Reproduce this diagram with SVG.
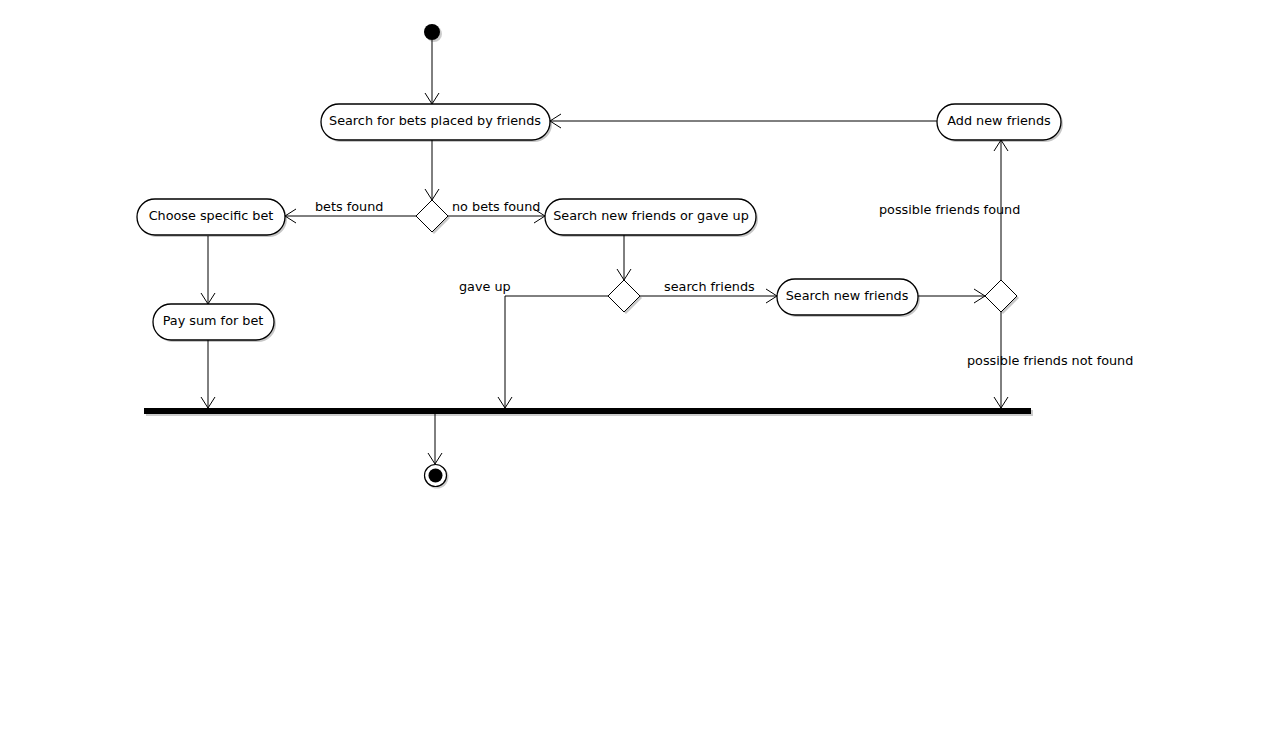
<svg xmlns="http://www.w3.org/2000/svg" width="1271" height="736" viewBox="0 0 1271 736">
<style>
.node rect.shape{fill:#fff;stroke:#000;stroke-width:1.3}
.shadow{fill:#000;opacity:0.22}
.dia{fill:#fff;stroke:#000;stroke-width:1}
.t{font-family:"DejaVu Sans","Liberation Sans",sans-serif;font-size:12.8px;fill:#000}
.nt{text-anchor:middle}
.edge{fill:none;stroke:#000;stroke-width:1}
</style>
<defs>
<marker id="arr" markerUnits="userSpaceOnUse" markerWidth="14" markerHeight="16" viewBox="0 0 14 16" refX="12" refY="8" orient="auto">
<path d="M1,1 L12,8 L1,15" fill="none" stroke="#000" stroke-width="1"/>
</marker>
</defs>
<rect width="1271" height="736" fill="#fff"/>
<g id="connectors">
<path class="edge" d="M432,40 L432,104" marker-end="url(#arr)"/>
<path class="edge" d="M432,140 L432,200" marker-end="url(#arr)"/>
<path class="edge" d="M416,216 L285,216" marker-end="url(#arr)"/>
<path class="edge" d="M448,216 L545,216" marker-end="url(#arr)"/>
<path class="edge" d="M624,235 L624,280" marker-end="url(#arr)"/>
<path class="edge" d="M608,296 L505,296 L505,408" marker-end="url(#arr)"/>
<path class="edge" d="M640,296 L777,296" marker-end="url(#arr)"/>
<path class="edge" d="M918,296 L985,296" marker-end="url(#arr)"/>
<path class="edge" d="M1001,280 L1001,140" marker-end="url(#arr)"/>
<path class="edge" d="M937,121 L550,121" marker-end="url(#arr)"/>
<path class="edge" d="M1001,312 L1001,408" marker-end="url(#arr)"/>
<path class="edge" d="M208,236 L208,304" marker-end="url(#arr)"/>
<path class="edge" d="M208,340 L208,408" marker-end="url(#arr)"/>
<path class="edge" d="M435,414 L435,464" marker-end="url(#arr)"/>
<text class="t" x="315" y="211">bets found</text>
<text class="t" x="452" y="211">no bets found</text>
<text class="t" x="459" y="291">gave up</text>
<text class="t" x="664" y="291">search friends</text>
<text class="t" x="879" y="214">possible friends found</text>
<text class="t" x="967" y="365">possible friends not found</text>
</g>
<g id="start">
<circle cx="434" cy="34" r="8" fill="#000" opacity="0.2"/>
<circle cx="432" cy="32" r="8" fill="#000"/>
</g>
<g id="n_search_bets" class="node">
<rect class="shadow" x="323" y="106" width="229" height="36" rx="18"/>
<rect class="shape" x="321" y="104" width="229" height="36" rx="18"/>
<text class="t nt" x="435" y="125">Search for bets placed by friends</text>
</g>
<g id="d1">
<path class="shadow" d="M434,202 L450,218 L434,234 L418,218 Z"/>
<path class="dia" d="M432,200 L448,216 L432,232 L416,216 Z"/>
</g>
<g id="n_choose" class="node">
<rect class="shadow" x="139" y="201" width="148" height="36" rx="18"/>
<rect class="shape" x="137" y="199" width="148" height="36" rx="18"/>
<text class="t nt" x="211" y="220">Choose specific bet</text>
</g>
<g id="n_search_or_gave" class="node">
<rect class="shadow" x="547" y="201" width="211" height="36" rx="18"/>
<rect class="shape" x="545" y="199" width="211" height="36" rx="18"/>
<text class="t nt" x="651" y="220">Search new friends or gave up</text>
</g>
<g id="d2">
<path class="shadow" d="M626,282 L642,298 L626,314 L610,298 Z"/>
<path class="dia" d="M624,280 L640,296 L624,312 L608,296 Z"/>
</g>
<g id="n_search_new" class="node">
<rect class="shadow" x="779" y="281" width="141" height="36" rx="18"/>
<rect class="shape" x="777" y="279" width="141" height="36" rx="18"/>
<text class="t nt" x="847" y="300">Search new friends</text>
</g>
<g id="d3">
<path class="shadow" d="M1003,282 L1019,298 L1003,314 L987,298 Z"/>
<path class="dia" d="M1001,280 L1017,296 L1001,312 L985,296 Z"/>
</g>
<g id="n_add" class="node">
<rect class="shadow" x="939" y="106" width="124" height="36" rx="18"/>
<rect class="shape" x="937" y="104" width="124" height="36" rx="18"/>
<text class="t nt" x="999" y="125">Add new friends</text>
</g>
<g id="n_pay" class="node">
<rect class="shadow" x="155" y="306" width="121" height="36" rx="18"/>
<rect class="shape" x="153" y="304" width="121" height="36" rx="18"/>
<text class="t nt" x="213" y="325">Pay sum for bet</text>
</g>
<g id="join">
<rect x="146" y="410" width="887" height="6" fill="#000" opacity="0.2"/>
<rect x="144" y="408" width="887" height="6" fill="#000"/>
</g>
<g id="end">
<circle cx="437" cy="477" r="11.5" fill="#000" opacity="0.2"/>
<circle cx="435.5" cy="475.5" r="11" fill="#fff" stroke="#000" stroke-width="1.2"/>
<circle cx="435.5" cy="475.5" r="7" fill="#000"/>
</g>
</svg>
